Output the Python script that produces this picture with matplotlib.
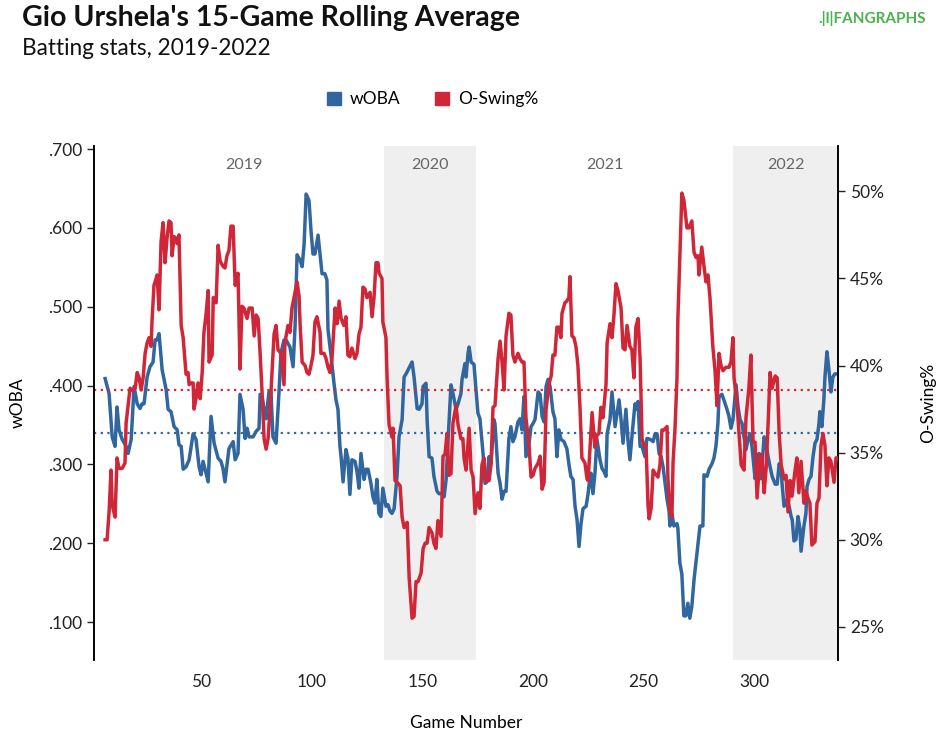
import numpy as np
import matplotlib
matplotlib.use("Agg")
import matplotlib.pyplot as plt
from matplotlib.patches import Patch
from matplotlib.ticker import FuncFormatter

plt.rcParams['font.family'] = ['Lato', 'DejaVu Sans']

# wOBA, 15-game rolling average (game number, value)
woba_game = [6.6, 8.4, 9.8, 11.1, 12.0, 12.9, 14.3, 16.1, 17.0, 18.4, 19.7, 21.1, 22.4, 23.3, 24.2,
             25.6, 26.9, 28.3, 29.2, 30.1, 31.0, 32.4, 34.2, 35.1, 36.4, 37.8, 39.2, 40.0, 41.0, 41.9,
             43.2, 44.6, 46.4, 47.7, 49.1, 50.0, 50.9, 51.8, 53.2, 54.5, 55.9, 57.7, 59.0, 59.9, 60.8,
             62.6, 64.5, 65.4, 66.7, 67.6, 69.0, 69.9, 70.8, 71.7, 73.5, 74.9, 76.2, 76.7, 77.6, 78.5,
             79.4, 80.7, 81.6, 82.5, 83.9, 85.2, 86.1, 87.5, 88.4, 90.2, 91.6, 92.5, 93.4, 94.8, 95.7,
             96.6, 97.5, 98.8, 99.7, 100.6, 101.5, 102.9, 103.8, 104.7, 106.0, 106.9, 107.4, 108.8, 110.1,
             111.0, 111.9, 112.8, 113.3, 114.2, 115.5, 116.4, 117.3, 118.2, 119.6, 120.5, 121.4, 122.3,
             123.7, 124.6, 125.5, 126.8, 127.7, 128.6, 129.5, 130.4, 131.3, 132.2, 133.6, 134.5, 135.4,
             136.3, 137.3, 138.6, 139.5, 140.9, 141.8, 142.7, 143.6, 145.4, 146.3, 147.7, 148.6, 149.9,
             150.4, 151.7, 152.2, 153.1, 154.4, 155.3, 156.7, 157.6, 158.9, 159.9, 160.8, 161.7, 163.0,
             163.9, 165.3, 166.2, 167.5, 168.0, 169.3, 169.8, 170.7, 171.2, 172.1, 173.4, 174.3, 175.2,
             176.1, 177.5, 178.4, 179.3, 180.2, 181.1, 182.4, 182.9, 184.3, 185.2, 186.1, 187.0, 187.9,
             189.2, 190.1, 191.0, 191.9, 193.3, 194.2, 195.1, 196.0, 196.9, 198.3, 199.2, 200.1, 201.0,
             202.4, 203.3, 204.2, 205.1, 206.0, 206.9, 207.8, 209.1, 210.0, 210.9, 211.8, 212.7, 214.1,
             215.4, 216.3, 217.2, 218.2, 219.1, 220.0, 220.9, 221.8, 222.7, 224.1, 225.0, 225.9, 226.3,
             227.2, 228.1, 229.0, 230.4, 231.3, 232.2, 233.1, 233.6, 234.9, 235.8, 237.2, 238.1, 239.0,
             239.9, 240.8, 242.1, 243.0, 243.9, 244.8, 246.2, 247.1, 247.6, 248.5, 249.4, 250.7, 251.6,
             253.0, 254.4, 255.3, 256.2, 257.1, 258.0, 258.9, 259.8, 260.7, 261.6, 262.0, 262.9, 263.8,
             265.2, 265.6, 266.5, 267.4, 268.3, 269.2, 270.1, 271.0, 271.9, 272.9, 273.8, 274.7, 275.6,
             276.9, 277.4, 278.8, 279.7, 281.0, 281.9, 282.8, 283.7, 284.2, 285.5, 286.4, 287.8, 288.7,
             289.6, 290.5, 291.9, 292.8, 293.7, 294.6, 295.5, 296.4, 297.3, 298.2, 299.1, 300.0, 300.5,
             301.4, 302.3, 303.2, 304.6, 305.5, 306.4, 307.3, 308.2, 309.6, 310.5, 311.4, 312.3, 312.7,
             313.6, 314.5, 315.0, 315.9, 316.8, 317.3, 318.1, 319.0, 319.9, 320.8, 321.3, 322.6, 323.5,
             324.0, 324.9, 325.8, 326.7, 327.6, 328.5, 329.4, 329.8, 330.7, 331.6, 332.1, 333.0, 333.9,
             334.8, 335.7, 336.6, 337.5]
woba = [.409, .390, .335, .323, .373, .344, .332, .323, .314, .332, .399, .377, .371, .377, .377,
        .411, .424, .430, .458, .458, .466, .420, .395, .370, .367, .348, .344, .325, .323, .294,
        .297, .306, .339, .332, .297, .287, .304, .294, .278, .361, .327, .308, .304, .295, .278,
        .320, .329, .306, .314, .389, .370, .333, .346, .335, .335, .342, .346, .389, .386, .370,
        .358, .392, .392, .335, .327, .390, .441, .458, .458, .449, .424, .475, .566, .559, .551,
        .580, .643, .635, .597, .567, .567, .591, .567, .542, .542, .534, .471, .437, .403,
        .382, .370, .323, .310, .278, .319, .308, .262, .306, .304, .291, .270, .314,
        .281, .294, .294, .276, .259, .251, .281, .238, .234, .270, .247, .249, .241,
        .238, .244, .285, .335, .357, .411, .415, .420, .430, .411, .371, .370, .377,
        .399, .403, .357, .310, .308, .285, .266, .263, .263, .259, .281, .332, .401,
        .390, .370, .377, .390, .408, .428, .411, .441, .449, .430, .427, .395, .365,
        .358, .314, .276, .278, .310, .301, .357, .352, .289, .276, .256, .266, .266,
        .333, .348, .329, .335, .354, .358, .344, .386, .310, .327, .348, .352, .357,
        .392, .389, .361, .354, .399, .408, .399, .367, .358, .310, .344, .332, .329,
        .320, .301, .285, .281, .247, .230, .196, .225, .244, .247, .263, .285, .289,
        .263, .289, .332, .306, .295, .291, .285, .339, .357, .392, .348, .365, .382,
        .357, .327, .370, .332, .306, .335, .377, .370, .380, .323, .323, .310, .333,
        .332, .329, .339, .339, .314, .310, .297, .276, .256, .241, .222, .238, .222,
        .225, .219, .175, .161, .108, .108, .124, .105, .120, .154, .177, .200, .222,
        .222, .287, .285, .294, .301, .308, .323, .352, .386, .389, .382, .370, .361,
        .346, .357, .401, .373, .357, .352, .335, .319, .332, .339, .323, .297, .282,
        .301, .314, .282, .335, .325, .310, .297, .285, .275, .275, .301, .294, .276,
        .247, .249, .256, .247, .234, .230, .203, .205, .234, .218, .190, .222, .238,
        .272, .281, .285, .310, .327, .332, .352, .367, .348, .382, .411, .443, .420,
        .392, .411, .415, .415]

# O-Swing%, 15-game rolling average (game number, percent)
oswing_game = [6.6, 7.5, 8.4, 9.3, 9.8, 11.1, 12.0, 12.9, 14.3, 15.6, 16.1, 17.0, 17.9, 18.8, 20.2,
               21.1, 22.0, 22.9, 23.8, 24.7, 25.6, 26.5, 27.4, 27.8, 28.7, 29.7, 30.1, 31.0, 31.9, 32.8,
               33.7, 34.6, 35.5, 36.4, 36.9, 37.8, 38.7, 39.2, 40.0, 41.0, 41.9, 43.2, 44.1, 44.6, 45.5,
               46.4, 46.8, 47.7, 48.6, 49.6, 50.5, 51.3, 52.3, 53.2, 53.6, 55.0, 55.5, 56.8, 57.7, 58.6,
               59.9, 60.8, 61.7, 62.6, 63.5, 64.5, 65.4, 66.7, 67.1, 67.6, 68.5, 69.4, 70.8, 71.7, 73.1,
               74.0, 74.9, 75.8, 76.7, 77.6, 78.5, 79.4, 80.3, 81.2, 82.1, 83.0, 83.9, 84.8, 86.1, 87.5,
               87.9, 89.3, 90.2, 91.1, 92.5, 93.4, 94.3, 94.8, 95.7, 97.0, 97.9, 98.8, 99.7, 100.6, 101.5,
               102.4, 103.8, 104.2, 105.6, 106.5, 107.4, 108.3, 109.2, 110.6, 111.5, 112.4, 113.3, 114.6,
               115.5, 116.4, 117.3, 118.2, 119.6, 120.5, 121.4, 122.3, 123.2, 124.1, 125.0, 126.4, 127.3,
               128.2, 129.1, 130.0, 130.5, 131.8, 132.2, 133.6, 134.1, 135.0, 136.3, 136.8, 137.7, 138.6,
               140.0, 140.9, 141.8, 143.2, 144.1, 145.4, 146.3, 147.2, 148.1, 149.5, 150.4, 151.3, 152.2,
               153.1, 154.4, 155.3, 156.2, 157.1, 158.5, 159.4, 160.3, 161.2, 162.1, 163.0, 163.9, 165.3,
               166.2, 167.5, 168.4, 168.9, 169.8, 171.2, 172.1, 173.0, 173.9, 175.2, 176.1, 177.0, 177.9,
               178.8, 180.2, 181.1, 182.0, 182.9, 184.3, 185.2, 186.1, 187.0, 187.9, 189.2, 190.1, 191.0,
               191.9, 193.3, 194.2, 195.1, 196.0, 196.9, 198.3, 199.2, 200.1, 201.0, 202.4, 203.3, 204.2,
               205.1, 206.0, 207.4, 208.3, 209.1, 210.0, 210.9, 211.8, 212.7, 213.2, 214.5, 215.4, 216.3,
               216.8, 217.7, 218.6, 219.5, 220.4, 221.3, 222.2, 223.6, 224.5, 225.0, 225.9, 226.8, 228.1,
               229.0, 229.9, 230.8, 231.7, 233.1, 233.6, 234.9, 235.8, 236.7, 237.6, 238.5, 239.9, 240.8,
               241.7, 242.6, 243.9, 244.8, 245.7, 246.6, 247.6, 248.5, 249.4, 250.3, 251.2, 252.1, 252.6,
               253.5, 254.4, 255.3, 256.6, 257.5, 258.4, 259.3, 260.7, 261.1, 262.0, 262.9, 263.4, 264.3,
               265.2, 265.6, 266.5, 267.4, 268.3, 269.7, 270.6, 271.9, 272.9, 273.8, 274.7, 275.1, 276.4,
               277.4, 278.3, 279.2, 280.1, 281.4, 282.4, 283.3, 284.2, 285.1, 286.0, 287.3, 288.7, 289.6,
               290.5, 291.0, 292.4, 293.3, 294.2, 295.5, 296.4, 297.7, 298.6, 299.6, 300.5, 301.4, 302.8,
               303.6, 304.6, 305.5, 306.4, 307.3, 308.2, 309.6, 310.5, 311.4, 312.3, 313.6, 314.5, 315.4,
               316.3, 317.2, 318.5, 319.4, 320.3, 321.3, 322.6, 323.5, 324.4, 325.3, 326.2, 327.6, 328.5,
               329.4, 330.3, 331.2, 332.1, 333.0, 333.9, 334.8, 336.2, 337.1, 337.5]
oswing = [30.0, 30.0, 31.6, 34.0, 32.0, 31.3, 34.7, 34.1, 34.1, 34.4, 36.7, 37.7, 38.7, 38.6, 38.7,
          39.6, 39.3, 38.6, 39.3, 40.7, 41.3, 41.6, 41.1, 42.5, 44.6, 45.0, 45.2, 43.2, 47.1, 48.2,
          45.9, 47.3, 48.3, 48.2, 46.3, 47.4, 47.3, 47.0, 47.5, 42.3, 41.6, 39.5, 39.6, 38.9, 39.0,
          39.0, 37.5, 38.1, 39.0, 38.1, 39.6, 41.9, 43.0, 44.3, 40.2, 40.6, 43.9, 43.6, 46.9, 46.0,
          45.7, 45.6, 46.3, 46.6, 48.0, 48.0, 44.6, 45.3, 43.0, 39.8, 43.4, 43.3, 42.7, 43.3, 43.3,
          41.7, 42.9, 42.7, 40.7, 38.4, 35.8, 35.2, 35.8, 37.5, 39.6, 41.8, 42.3, 40.9, 40.7, 38.9,
          41.3, 42.3, 41.9, 43.3, 44.2, 44.8, 44.0, 42.3, 40.2, 40.0, 39.6, 39.5, 40.0, 40.6, 42.5,
          42.8, 41.9, 40.7, 40.7, 40.4, 39.9, 39.6, 40.4, 43.3, 42.4, 43.7, 42.7, 42.3,
          42.8, 40.6, 40.5, 41.0, 40.4, 40.7, 41.8, 42.2, 44.5, 44.4, 43.9, 44.2, 42.8,
          43.9, 45.9, 45.9, 45.3, 45.0, 42.5, 41.6, 39.3, 36.6, 35.9, 36.4, 33.4, 33.3,
          33.1, 31.3, 30.7, 31.0, 27.8, 25.5, 25.6, 27.6, 27.6, 28.1, 29.5, 29.8, 29.8,
          30.7, 30.4, 29.8, 29.5, 31.1, 30.2, 34.8, 34.9, 36.1, 33.7, 33.8, 36.7, 37.7,
          36.6, 35.8, 35.8, 34.7, 34.0, 36.4, 34.0, 33.6, 31.5, 32.7, 31.8, 34.3, 34.7,
          33.4, 33.4, 34.3, 37.6, 37.7, 40.4, 41.4, 40.2, 38.6, 41.7, 43.0, 42.9, 40.6,
          40.2, 40.7, 40.4, 40.2, 40.2, 37.0, 35.4, 33.6, 33.7, 34.1, 34.4, 34.8, 32.9,
          33.3, 37.5, 39.0, 39.4, 40.6, 40.6, 42.2, 42.2, 41.6, 43.0, 43.6, 43.7, 43.9,
          45.1, 41.7, 41.6, 41.1, 40.0, 37.7, 34.7, 34.4, 33.5, 33.4, 35.4, 37.3, 35.3,
          36.0, 36.1, 37.6, 37.0, 38.9, 41.3, 42.4, 41.6, 42.9, 44.7, 44.3, 43.3, 41.0,
          40.9, 42.3, 41.1, 40.9, 39.3, 42.2, 42.7, 40.4, 35.8, 35.4, 35.4, 32.0, 31.2,
          31.8, 34.0, 33.8, 33.6, 34.3, 36.3, 36.3, 36.5, 33.5, 31.6, 31.3, 34.4, 36.4,
          39.3, 42.7, 46.3, 49.9, 49.5, 47.9, 47.9, 48.3, 46.5, 46.2, 46.3, 45.2, 46.8,
          45.7, 44.8, 45.2, 43.9, 41.1, 39.7, 37.7, 40.7, 40.0, 39.7, 39.9, 39.9, 40.2,
          41.6, 39.3, 37.7, 36.0, 34.3, 34.0, 37.0, 38.7, 40.6, 35.6, 35.6, 32.4, 34.9,
          34.8, 32.7, 34.1, 36.7, 39.6, 38.7, 39.4, 39.3, 36.1, 34.3, 33.5, 33.7, 31.6,
          33.4, 32.5, 33.9, 34.7, 32.7, 34.5, 32.1, 32.8, 32.4, 32.1, 29.7, 29.9, 32.1,
          32.4, 35.4, 36.1, 35.4, 33.1, 34.7, 34.5, 33.3, 34.7, 34.7]

woba_avg = 0.3405
oswing_avg = 38.6

seasons = ['2019', '2020', '2021', '2022']
season_start = [6.6, 132.5, 174.5, 290.5]
season_end = [132.5, 174.5, 290.5, 338.0]
shaded = [False, True, False, True]

blue = '#31679e'
red = '#d12637'

fig = plt.figure(figsize=(9.47, 7.53), dpi=100)
ax = fig.add_axes([0.0993, 0.1235, 0.7856, 0.6826])
ax2 = ax.twinx()

ax.set_xlim(1.6, 338)
ax.set_ylim(0.052, 0.704)
ax2.set_ylim(23.1, 52.6)

for name, s, e, sh in zip(seasons, season_start, season_end, shaded):
    if sh:
        ax.axvspan(s, e, color='#efefef', lw=0, zorder=0)
    ax.text((s + e) / 2, 0.680, name, ha='center', va='center', fontsize=11.5, color='#666666')

ax.axhline(woba_avg, color=blue, lw=1.6, ls=(0, (1, 2)), zorder=2)
ax2.axhline(oswing_avg, color=red, lw=1.6, ls=(0, (1, 2)), zorder=2)

ax.plot(woba_game, woba, color=blue, lw=2.5, zorder=3, solid_joinstyle='round')
ax2.plot(oswing_game, oswing, color=red, lw=2.5, zorder=3, solid_joinstyle='round')

ax.set_xticks([50, 100, 150, 200, 250, 300])
ax.set_yticks([0.1, 0.2, 0.3, 0.4, 0.5, 0.6, 0.7])
ax.yaxis.set_major_formatter(FuncFormatter(lambda v, p: f"{v:.3f}".lstrip('0')))
ax2.set_yticks([25, 30, 35, 40, 45, 50])
ax2.yaxis.set_major_formatter(FuncFormatter(lambda v, p: f"{v:.0f}%"))

ax.tick_params(axis='x', length=0, labelsize=12.5, pad=10, colors='#222222')
ax.tick_params(axis='y', length=5, width=1, labelsize=12.5, colors='#222222')
ax2.tick_params(axis='y', length=5, width=1, labelsize=12.5, colors='#222222')

for a in (ax, ax2):
    a.spines['top'].set_visible(False)
    a.spines['bottom'].set_visible(False)
    a.spines['left'].set_linewidth(1.2)
    a.spines['right'].set_linewidth(1.2)

ax.set_ylabel('wOBA', fontsize=12.5, labelpad=16)
ax2.set_ylabel('O-Swing%', fontsize=12.5, labelpad=26)
ax.set_xlabel('Game Number', fontsize=12.5, labelpad=18)

fig.text(0.023, 0.976, "Gio Urshela's 15-Game Rolling Average", fontsize=20.5,
         fontweight='bold', va='center', ha='left', color='#111111')
fig.text(0.023, 0.935, 'Batting stats, 2019-2022', fontsize=16.3, va='center', ha='left',
         color='#111111')
fig.text(0.978, 0.976, '.|l|FANGRAPHS', fontsize=11, fontweight='bold', color='#4caf50',
         va='center', ha='right')

handles = [Patch(color=blue, label='wOBA'), Patch(color=red, label='O-Swing%')]
fig.legend(handles=handles, loc='center', bbox_to_anchor=(0.457, 0.868), ncol=2,
           frameon=False, fontsize=12.5, handlelength=0.8, handleheight=0.8,
           handletextpad=0.5, columnspacing=2.0)

fig.savefig('out.png', dpi=100)
